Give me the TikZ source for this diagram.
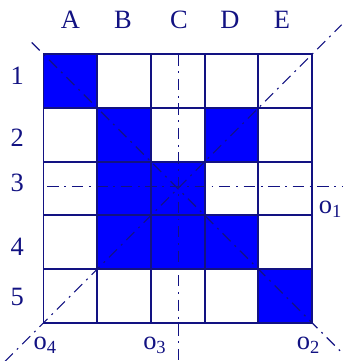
\documentclass[tikz,border=0pt]{standalone}
\usepackage{fontspec}
\setmainfont{Liberation Serif}
\usetikzlibrary{positioning}
\definecolor{navy}{RGB}{18,18,130}
\definecolor{cellblue}{RGB}{0,0,255}
\tikzset{
  cell/.style={draw=navy,line width=1pt,minimum size=1cm,inner sep=0pt,fill=white},
  hit/.style={cell,fill=cellblue},
  axisline/.style={draw=navy,line width=0.6pt,dash pattern=on 6pt off 3pt on 1pt off 3pt},
  lbl/.style={text=navy,inner sep=0pt,font=\fontsize{14}{16}\selectfont},
  olbl/.style={lbl,anchor=base west}
}
\begin{document}
\begin{tikzpicture}
\useasboundingbox (-0.81,-5.71) rectangle (5.56,1.01);
% grid, row 1 at the top
\node[hit]  (A1) at (0.5,-0.5) {};
\node[cell] (B1) at (1.5,-0.5) {};
\node[cell] (C1) at (2.5,-0.5) {};
\node[cell] (D1) at (3.5,-0.5) {};
\node[cell] (E1) at (4.5,-0.5) {};
\node[cell] (A2) at (0.5,-1.5) {};
\node[hit]  (B2) at (1.5,-1.5) {};
\node[cell] (C2) at (2.5,-1.5) {};
\node[hit]  (D2) at (3.5,-1.5) {};
\node[cell] (E2) at (4.5,-1.5) {};
\node[cell] (A3) at (0.5,-2.5) {};
\node[hit]  (B3) at (1.5,-2.5) {};
\node[hit]  (C3) at (2.5,-2.5) {};
\node[cell] (D3) at (3.5,-2.5) {};
\node[cell] (E3) at (4.5,-2.5) {};
\node[cell] (A4) at (0.5,-3.5) {};
\node[hit]  (B4) at (1.5,-3.5) {};
\node[hit]  (C4) at (2.5,-3.5) {};
\node[hit]  (D4) at (3.5,-3.5) {};
\node[cell] (E4) at (4.5,-3.5) {};
\node[cell] (A5) at (0.5,-4.5) {};
\node[cell] (B5) at (1.5,-4.5) {};
\node[cell] (C5) at (2.5,-4.5) {};
\node[cell] (D5) at (3.5,-4.5) {};
\node[hit]  (E5) at (4.5,-4.5) {};
% column and row labels
\node[lbl] (colA) at (0.5,0.64) {A};
\node[lbl] (colB) at (1.48,0.64) {B};
\node[lbl] (colC) at (2.52,0.64) {C};
\node[lbl] (colD) at (3.47,0.64) {D};
\node[lbl] (colE) at (4.44,0.64) {E};
\node[lbl] (row1) at (-0.49,-0.40) {1};
\node[lbl] (row2) at (-0.49,-1.55) {2};
\node[lbl] (row3) at (-0.49,-2.39) {3};
\node[lbl] (row4) at (-0.49,-3.58) {4};
\node[lbl] (row5) at (-0.49,-4.51) {5};
% symmetry axes
\coordinate (d1s) at (-0.22,0.22);
\coordinate (d1e) at (5.55,-5.55);
\coordinate (d2s) at (-0.72,-5.72);
\coordinate (d2e) at (5.55,0.55);
\coordinate (hs) at (0.07,-2.46);
\coordinate (he) at (5.56,-2.46);
\coordinate (vs) at (2.52,0);
\coordinate (ve) at (2.52,-5.71);
\draw[axisline] (d1s) -- (d1e);
\draw[axisline] (d2s) -- (d2e);
\draw[axisline] (hs) -- (he);
\draw[axisline] (vs) -- (ve);
\node[olbl] (o1) at (5.12,-2.97) {o\textsubscript{1}};
\node[olbl] (o2) at (4.71,-5.49) {o\textsubscript{2}};
\node[olbl] (o3) at (1.85,-5.49) {o\textsubscript{3}};
\node[olbl] (o4) at (-0.19,-5.49) {o\textsubscript{4}};
\end{tikzpicture}
\end{document}
